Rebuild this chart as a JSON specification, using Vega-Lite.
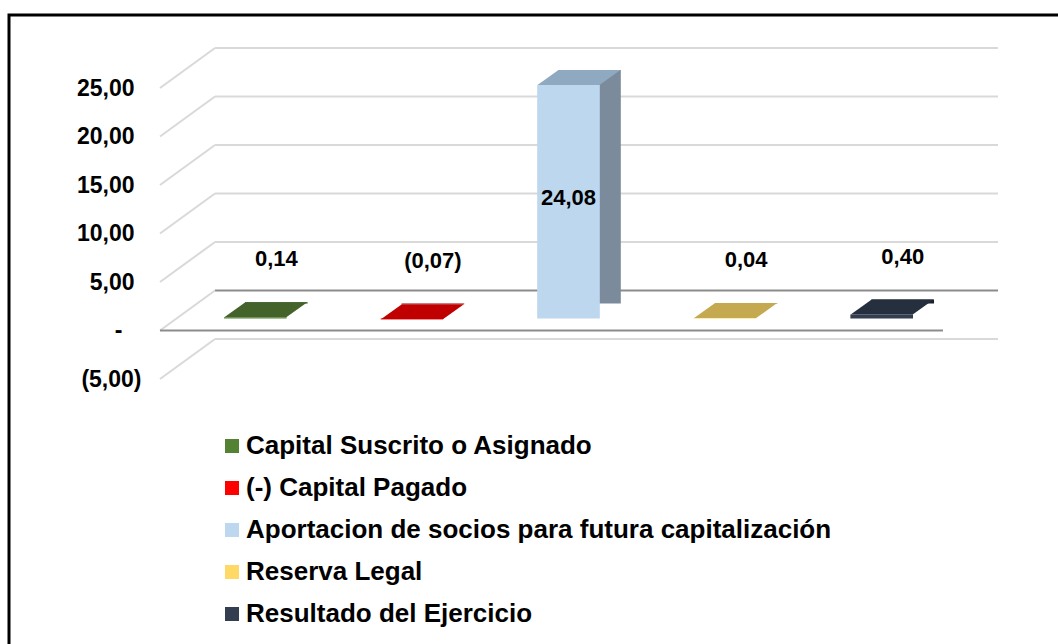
{
  "$schema": "https://vega.github.io/schema/vega-lite/v6.json",
  "width": 1060,
  "height": 640,
  "autosize": "none",
  "padding": {"left": 9, "top": 15, "right": 0, "bottom": 0},
  "background": "#ffffff",
  "config": {
    "view": {"stroke": "#000000", "strokeWidth": 3},
    "locale": {"number": {"decimal": ",", "thousands": ".", "grouping": [3], "currency": ["", ""]}},
    "font": "Liberation Sans"
  },
  "datasets": {
    "cuentas": [
      {"cuenta": "Capital Suscrito o Asignado", "valor": 0.14},
      {"cuenta": "(-) Capital Pagado", "valor": -0.07},
      {"cuenta": "Aportacion de socios para futura capitalización", "valor": 24.08},
      {"cuenta": "Reserva Legal", "valor": 0.04},
      {"cuenta": "Resultado del Ejercicio", "valor": 0.40}
    ],
    "marcas": [{"t": -5}, {"t": 0}, {"t": 5}, {"t": 10}, {"t": 15}, {"t": 20}, {"t": 25}]
  },
  "resolve": {"scale": {"x": "independent", "color": "independent"}},
  "layer": [
    {
      "data": {"name": "marcas"},
      "mark": {"type": "rule", "strokeWidth": 2, "xOffset": 55, "x2Offset": 55, "yOffset": -40, "y2Offset": -40},
      "encoding": {
        "x": {"datum": 0, "type": "quantitative", "scale": {"domain": [0, 1], "range": [151, 934]}, "axis": null},
        "x2": {"datum": 1},
        "y": {"field": "t", "type": "quantitative", "title": null,
              "scale": {"domain": [-5, 25], "range": [364, 73], "nice": false, "zero": false},
              "axis": {"values": [-5, 0, 5, 10, 15, 20, 25], "grid": false, "domain": false, "ticks": false,
                       "labelExpr": "datum.value === 0 ? '-' : format(datum.value, '(.2f')",
                       "labelFont": "Liberation Sans", "labelFontWeight": "bold", "labelFontSize": 23, "labelColor": "#000000",
                       "labelPadding": {"condition": [{"test": "datum.value === 0", "value": 38}, {"test": "datum.value < 0", "value": 19}], "value": 26},
                       "offset": -151}},
        "color": {"condition": {"test": "datum.t === 0", "value": "#8c8c8c"}, "value": "#d9d9d9"}
      }
    },
    {
      "data": {"name": "marcas"},
      "mark": {"type": "rule", "strokeWidth": 2, "color": "#d9d9d9", "x2Offset": 55, "y2Offset": -40},
      "encoding": {
        "x": {"datum": 0, "type": "quantitative", "scale": {"domain": [0, 1], "range": [151, 934]}, "axis": null},
        "x2": {"datum": 0},
        "y": {"field": "t", "type": "quantitative", "title": null},
        "y2": {"field": "t"}
      }
    },
    {
      "data": {"values": [{"base": 0}]},
      "mark": {"type": "rule", "strokeWidth": 2, "color": "#8c8c8c"},
      "encoding": {
        "x": {"datum": 0, "type": "quantitative", "scale": {"domain": [0, 1], "range": [151, 934]}, "axis": null},
        "x2": {"datum": 1},
        "y": {"field": "base", "type": "quantitative", "title": null}
      }
    },
    {
      "data": {"name": "cuentas"},
      "mark": {"type": "bar", "xOffset": 38, "yOffset": -27},
      "encoding": {
        "x": {"field": "cuenta", "type": "nominal", "sort": null, "axis": null,
              "scale": {"domain": ["Capital Suscrito o Asignado", "(-) Capital Pagado", "Aportacion de socios para futura capitalización", "Reserva Legal", "Resultado del Ejercicio"],
                        "range": [151, 934], "paddingInner": 0.6, "paddingOuter": 0.3}},
        "y": {"field": "valor", "type": "quantitative", "title": null},
        "color": {"field": "cuenta", "type": "nominal", "legend": null,
                  "scale": {"domain": ["Capital Suscrito o Asignado", "(-) Capital Pagado", "Aportacion de socios para futura capitalización", "Reserva Legal", "Resultado del Ejercicio"],
                            "range": ["#2f4a1e", "#8b0000", "#7b8b9b", "#9c8540", "#1b222d"]}}
      }
    },
    {
      "data": {"name": "cuentas"},
      "mark": {"type": "bar", "xOffset": 17, "yOffset": -12},
      "encoding": {
        "x": {"field": "cuenta", "type": "nominal", "sort": null, "axis": null,
              "scale": {"domain": ["Capital Suscrito o Asignado", "(-) Capital Pagado", "Aportacion de socios para futura capitalización", "Reserva Legal", "Resultado del Ejercicio"],
                        "range": [151, 934], "paddingInner": 0.6, "paddingOuter": 0.3}},
        "y": {"field": "valor", "type": "quantitative", "title": null},
        "color": {"field": "cuenta", "type": "nominal",
                  "scale": {"domain": ["Capital Suscrito o Asignado", "(-) Capital Pagado", "Aportacion de socios para futura capitalización", "Reserva Legal", "Resultado del Ejercicio"],
                            "range": ["#548235", "#ff0000", "#bdd7ee", "#ffd966", "#333f50"]},
                  "legend": {"orient": "none", "legendX": 210, "legendY": 418, "title": null, "padding": 0,
                             "symbolType": "square", "symbolSize": 196, "symbolStrokeWidth": 0,
                             "labelFont": "Liberation Sans", "labelFontWeight": "bold", "labelFontSize": 26,
                             "labelColor": "#000000", "labelLimit": 900, "labelOffset": 1, "rowPadding": 16}}
      }
    },
    {
      "data": {"name": "cuentas"},
      "mark": {"type": "point", "filled": true, "opacity": 1, "strokeWidth": 0, "size": 4,
               "shape": "M-31,0L31,0L52,-15L-10,-15Z", "xOffset": 17, "yOffset": -12},
      "encoding": {
        "x": {"field": "cuenta", "type": "nominal", "sort": null, "axis": null,
              "scale": {"domain": ["Capital Suscrito o Asignado", "(-) Capital Pagado", "Aportacion de socios para futura capitalización", "Reserva Legal", "Resultado del Ejercicio"],
                        "range": [151, 934], "paddingInner": 0.6, "paddingOuter": 0.3}},
        "y": {"field": "valor", "type": "quantitative", "title": null},
        "color": {"field": "cuenta", "type": "nominal", "legend": null,
                  "scale": {"domain": ["Capital Suscrito o Asignado", "(-) Capital Pagado", "Aportacion de socios para futura capitalización", "Reserva Legal", "Resultado del Ejercicio"],
                            "range": ["#43632b", "#c00000", "#8fa9c1", "#c5a951", "#262f3d"]}}
      }
    },
    {
      "data": {"name": "cuentas"},
      "transform": [{"filter": "datum.valor < 5"}],
      "mark": {"type": "text", "font": "Liberation Sans", "fontWeight": "bold", "fontSize": 22, "color": "#000000",
               "baseline": "middle", "align": "center", "xOffset": 38, "yOffset": -70},
      "encoding": {
        "x": {"field": "cuenta", "type": "nominal", "sort": null, "axis": null,
              "scale": {"domain": ["Capital Suscrito o Asignado", "(-) Capital Pagado", "Aportacion de socios para futura capitalización", "Reserva Legal", "Resultado del Ejercicio"],
                        "range": [151, 934], "paddingInner": 0.6, "paddingOuter": 0.3}},
        "y": {"field": "valor", "type": "quantitative", "title": null},
        "text": {"field": "valor", "type": "quantitative", "format": "(.2f"}
      }
    },
    {
      "data": {"name": "cuentas"},
      "transform": [{"filter": "datum.valor >= 5"}],
      "mark": {"type": "text", "font": "Liberation Sans", "fontWeight": "bold", "fontSize": 22, "color": "#000000",
               "baseline": "middle", "align": "center", "xOffset": 17, "yOffset": 101},
      "encoding": {
        "x": {"field": "cuenta", "type": "nominal", "sort": null, "axis": null,
              "scale": {"domain": ["Capital Suscrito o Asignado", "(-) Capital Pagado", "Aportacion de socios para futura capitalización", "Reserva Legal", "Resultado del Ejercicio"],
                        "range": [151, 934], "paddingInner": 0.6, "paddingOuter": 0.3}},
        "y": {"field": "valor", "type": "quantitative", "title": null},
        "text": {"field": "valor", "type": "quantitative", "format": "(.2f"}
      }
    }
  ]
}
